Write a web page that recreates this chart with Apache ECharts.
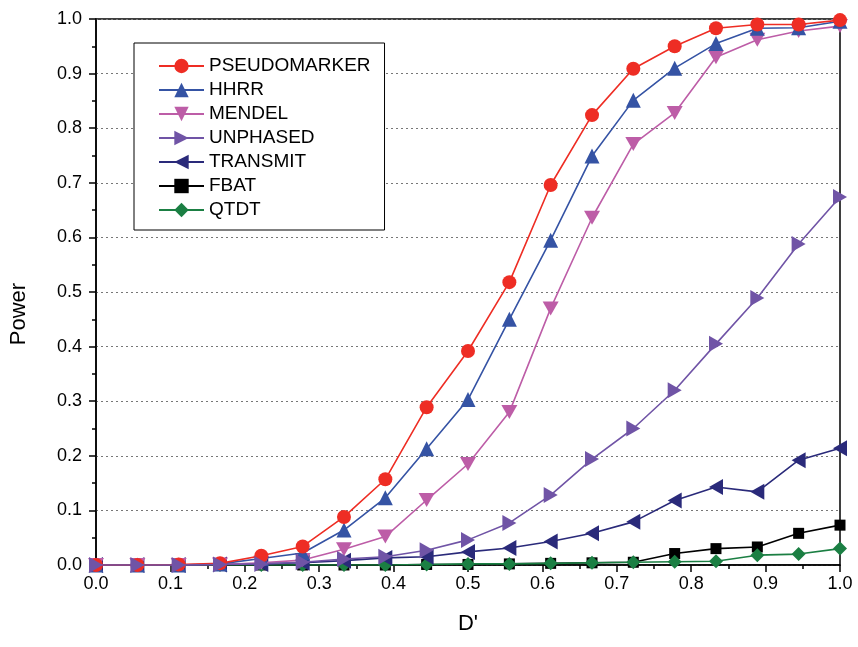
<!DOCTYPE html>
<html><head><meta charset="utf-8">
<script src="https://cdn.jsdelivr.net/npm/echarts@6/dist/echarts.min.js"></script>
<style>html,body{margin:0;padding:0;background:#fff}#c{width:858px;height:647px}</style>
</head><body><div id="c"></div>
<script>
const dPrime = [0, 0.0556, 0.1111, 0.1667, 0.2222, 0.2778, 0.3333, 0.3889, 0.4444, 0.5, 0.5556, 0.6111, 0.6667, 0.7222, 0.7778, 0.8333, 0.8889, 0.9444, 1.0];
const pseudomarker = [0, 0, 0.001, 0.003, 0.017, 0.034, 0.088, 0.157, 0.289, 0.392, 0.518, 0.696, 0.824, 0.909, 0.950, 0.983, 0.990, 0.990, 0.998];
const hhrr = [0, 0, 0, 0.002, 0.012, 0.022, 0.064, 0.123, 0.213, 0.303, 0.450, 0.595, 0.749, 0.851, 0.910, 0.955, 0.983, 0.984, 0.996];
const mendel = [0, 0, 0, 0.001, 0.004, 0.009, 0.029, 0.052, 0.119, 0.185, 0.280, 0.470, 0.636, 0.771, 0.828, 0.930, 0.962, 0.978, 0.987];
const unphased = [0, 0, 0, 0.001, 0.002, 0.005, 0.011, 0.015, 0.027, 0.046, 0.077, 0.128, 0.194, 0.250, 0.320, 0.405, 0.489, 0.588, 0.674];
const transmit = [0, 0, 0, 0.001, 0.002, 0.004, 0.008, 0.013, 0.015, 0.024, 0.031, 0.043, 0.058, 0.079, 0.118, 0.143, 0.134, 0.192, 0.214];
const fbat = [0, 0, 0, 0, 0, 0, 0, 0, 0.001, 0.001, 0.002, 0.003, 0.004, 0.005, 0.021, 0.030, 0.033, 0.058, 0.073];
const qtdt = [0, 0, 0, 0, 0, 0, 0, 0, 0.001, 0.002, 0.002, 0.003, 0.004, 0.005, 0.006, 0.007, 0.018, 0.020, 0.030];
const seriesNames = ['PSEUDOMARKER', 'HHRR', 'MENDEL', 'UNPHASED', 'TRANSMIT', 'FBAT', 'QTDT'];

const FONT = 'Arial, "Liberation Sans", sans-serif';
const defs = [
  {name: 'PSEUDOMARKER', data: pseudomarker, color: '#EE2D24', symbol: 'circle', size: 14, z: 5},
  {name: 'HHRR', data: hhrr, color: '#3553A4', symbol: 'triangle', size: 15, z: 4},
  {name: 'MENDEL', data: mendel, color: '#BD5DA7', symbol: 'path://M0,0L10,0L5,9Z', size: [16, 14], z: 3},
  {name: 'UNPHASED', data: unphased, color: '#7054A6', symbol: 'path://M0,0L9,5L0,10Z', size: [14, 16], z: 6},
  {name: 'TRANSMIT', data: transmit, color: '#2A2A7A', symbol: 'path://M9,0L0,5L9,10Z', size: [14, 16], z: 2},
  {name: 'FBAT', data: fbat, color: '#000000', symbol: 'rect', size: 11, z: 1},
  {name: 'QTDT', data: qtdt, color: '#1B7F43', symbol: 'diamond', size: 14, z: 1}
];
const series = defs.map(d => ({
  name: d.name, type: 'line', z: d.z,
  data: d.data.map((v, i) => [dPrime[i], v]),
  symbol: d.symbol, symbolSize: d.size, showAllSymbol: true,
  lineStyle: {color: d.color, width: 1.6},
  itemStyle: {color: d.color, borderWidth: 0},
  emphasis: {disabled: true}, animation: false
}));

const chart = echarts.init(document.getElementById('c'), null, {renderer: 'canvas'});
chart.setOption({
  backgroundColor: '#fff',
  animation: false,
  grid: {left: 96, right: 18, top: 19, bottom: 82, show: true, borderColor: '#000', borderWidth: 1.5, backgroundColor: 'transparent'},
  legend: {
    data: seriesNames, orient: 'vertical', left: 134, top: 43, width: 251,
    backgroundColor: '#fff', borderColor: '#000', borderWidth: 1,
    padding: [13, 14, 10, 24], itemWidth: 45, itemHeight: 18, itemGap: 4,
    textStyle: {fontFamily: FONT, fontSize: 19, color: '#000', lineHeight: 20},
    selectedMode: false
  },
  xAxis: {
    type: 'value', min: 0, max: 1, interval: 0.1,
    name: "D'", nameLocation: 'middle', nameGap: 48,
    nameTextStyle: {fontFamily: FONT, fontSize: 22, color: '#000'},
    axisLine: {lineStyle: {color: '#000', width: 1.5}},
    axisTick: {show: true, inside: false, length: 7, lineStyle: {color: '#000', width: 1.5}},
    minorTick: {show: true, splitNumber: 2, length: 4, lineStyle: {color: '#000', width: 1.5}},
    axisLabel: {fontFamily: FONT, fontSize: 18, color: '#000', margin: 10, formatter: v => v.toFixed(1)},
    splitLine: {show: false}
  },
  yAxis: {
    type: 'value', min: 0, max: 1, interval: 0.1,
    name: 'Power', nameLocation: 'middle', nameGap: 66, nameRotate: 90,
    nameTextStyle: {fontFamily: FONT, fontSize: 22, color: '#000', padding: [0, 44, 0, 0]},
    axisLine: {show: true, lineStyle: {color: '#000', width: 1.5}},
    axisTick: {show: true, inside: false, length: 7, lineStyle: {color: '#000', width: 1.5}},
    minorTick: {show: true, splitNumber: 2, length: 4, lineStyle: {color: '#000', width: 1.5}},
    axisLabel: {fontFamily: FONT, fontSize: 18, color: '#000', margin: 14, formatter: v => v.toFixed(1)},
    splitLine: {show: true, lineStyle: {color: '#777', width: 1, type: [2, 3]}}
  },
  series: series
});
</script></body></html>
